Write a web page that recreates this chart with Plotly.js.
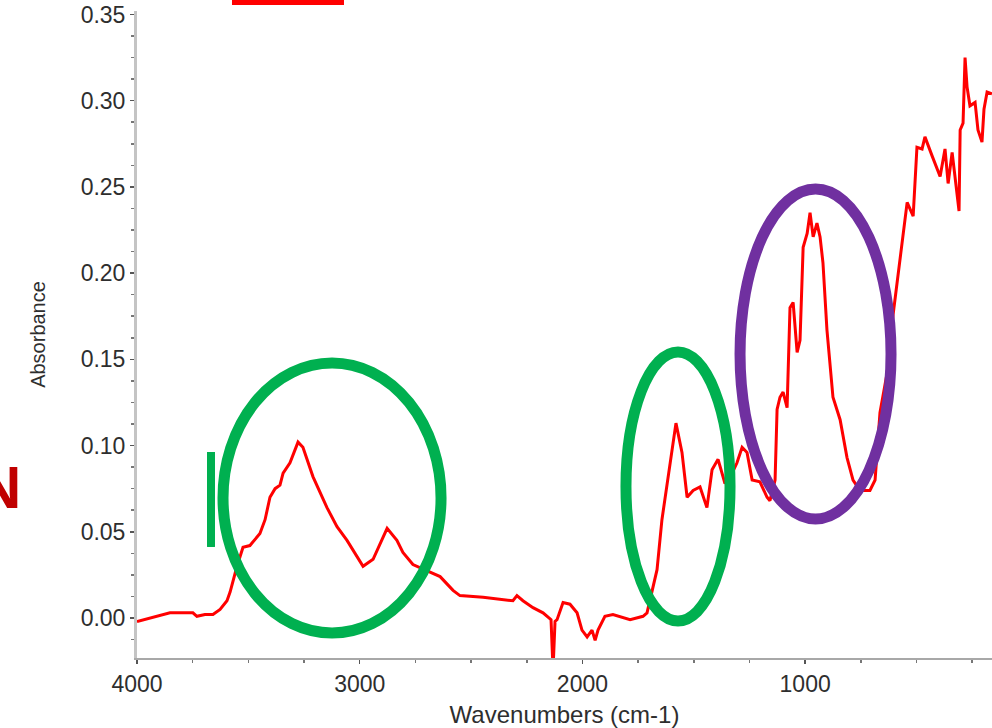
<!DOCTYPE html>
<html>
<head>
<meta charset="utf-8">
<script src="https://cdn.plot.ly/plotly-3.0.1.min.js"></script>
<style>
html,body{margin:0;padding:0;background:#fff;}
#chart{width:992px;height:728px;}
</style>
</head>
<body>
<div id="chart"></div>
<script>
// Wavenumber (cm-1) and absorbance
const wavenumbers = [4000,3942,3852,3749,3731,3695,3659,3627,3596,3582,3560,3551,3524,3493,3448,3425,3403,3380,3358,3344,3313,3277,3255,3210,3147,3102,3057,2985,2940,2877,2833,2806,2761,2671,2639,2581,2550,2446,2312,2294,2267,2222,2177,2141,2132,2123,2114,2087,2056,2024,2002,1979,1957,1943,1930,1899,1863,1786,1728,1710,1688,1665,1643,1607,1580,1553,1530,1503,1472,1441,1418,1391,1360,1328,1306,1283,1261,1238,1203,1171,1158,1135,1126,1113,1099,1081,1068,1054,1036,1023,1009,991,978,964,947,933,920,902,875,843,812,785,754,709,686,664,632,605,560,542,515,498,475,462,430,394,372,358,340,318,309,304,291,282,273,260,237,224,206,197,183,161];
const absorbance = [-0.002,0.000,0.003,0.003,0.001,0.002,0.002,0.005,0.010,0.015,0.026,0.030,0.041,0.042,0.049,0.057,0.070,0.075,0.077,0.084,0.090,0.102,0.099,0.082,0.064,0.053,0.045,0.030,0.034,0.052,0.045,0.038,0.031,0.026,0.024,0.016,0.013,0.012,0.010,0.013,0.010,0.006,0.003,-0.001,-0.030,-0.002,-0.001,0.009,0.008,0.003,-0.007,-0.011,-0.007,-0.013,-0.007,0.001,0.002,-0.001,0.001,0.003,0.016,0.028,0.057,0.088,0.113,0.096,0.070,0.074,0.076,0.064,0.086,0.092,0.078,0.084,0.090,0.099,0.096,0.080,0.079,0.070,0.068,0.080,0.121,0.128,0.131,0.122,0.180,0.183,0.154,0.161,0.215,0.223,0.235,0.221,0.229,0.221,0.206,0.167,0.128,0.115,0.093,0.080,0.074,0.074,0.080,0.119,0.142,0.176,0.225,0.241,0.233,0.273,0.272,0.279,0.268,0.256,0.272,0.252,0.270,0.248,0.236,0.283,0.287,0.325,0.308,0.297,0.299,0.283,0.276,0.295,0.305,0.304];

const xTickVals = [4000,3000,2000,1000];
const xTickText = ['4000','3000','2000','1000'];
const yTickVals = [0,0.05,0.10,0.15,0.20,0.25,0.30,0.35];
const yTickText = ['0.00','0.05','0.10','0.15','0.20','0.25','0.30','0.35'];

const FONT = 'Liberation Sans, Arial, sans-serif';
const GREEN = '#00b050';
const PURPLE = '#7030a0';

const trace = {
  x: wavenumbers, y: absorbance,
  type: 'scatter', mode: 'lines',
  line: {color: '#ff0000', width: 3},
  hoverinfo: 'x+y'
};

const layout = {
  width: 992, height: 728,
  margin: {l: 137, r: 0, t: 11, b: 70, pad: 0},
  paper_bgcolor: '#ffffff', plot_bgcolor: '#ffffff',
  showlegend: false,
  font: {family: FONT, color: '#333333'},
  xaxis: {
    range: [4000, 161], autorange: false,
    tickmode: 'array', tickvals: xTickVals, ticktext: xTickText,
    ticks: 'outside', ticklen: 4, tickwidth: 1.5, tickcolor: '#555',
    minor: {dtick: 250, tick0: 0, ticks: 'outside', ticklen: 3, tickcolor: '#777', showgrid: false},
    showgrid: false, zeroline: false,
    showline: true, linecolor: '#a8a8a8', linewidth: 2,
    tickfont: {family: FONT, size: 23, color: '#2e2e2e'},
    title: {text: 'Wavenumbers (cm-1)', font: {family: FONT, size: 24, color: '#2e2e2e'}, standoff: 14},
    automargin: false
  },
  yaxis: {
    range: [-0.0232, 0.352], autorange: false,
    tickmode: 'array', tickvals: yTickVals, ticktext: yTickText,
    ticks: 'outside', ticklen: 4, tickwidth: 1.5, tickcolor: '#555',
    minor: {dtick: 0.0125, tick0: 0, ticks: 'outside', ticklen: 3, tickcolor: '#777', showgrid: false},
    showgrid: false, zeroline: false,
    showline: true, linecolor: '#c4c4c4', linewidth: 3,
    tickfont: {family: FONT, size: 23, color: '#2e2e2e'},
    title: {text: 'Absorbance', font: {family: FONT, size: 20, color: '#2e2e2e'}, standoff: 30},
    automargin: false
  },
  shapes: [
    {type: 'rect', xref: 'paper', yref: 'paper', x0: 0.1111, x1: 0.2421, y0: 1.0093, y1: 1.03,
     fillcolor: '#ff0000', line: {width: 0}},
    {type: 'rect', xref: 'paper', yref: 'paper', x0: 0.0819, x1: 0.0912, y0: 0.1716, y1: 0.3184,
     fillcolor: GREEN, line: {width: 0}},
    {type: 'circle', xref: 'paper', yref: 'paper', x0: 0.1006, x1: 0.3556, y0: 0.0386, y1: 0.4560,
     line: {color: GREEN, width: 11}},
    {type: 'circle', xref: 'paper', yref: 'paper', x0: 0.5719, x1: 0.6936, y0: 0.0572, y1: 0.4730,
     line: {color: GREEN, width: 11}},
    {type: 'circle', xref: 'paper', yref: 'paper', x0: 0.7053, x1: 0.8819, y0: 0.2148, y1: 0.7249,
     line: {color: PURPLE, width: 11}}
  ],
  annotations: [
    {text: '<b>N</b>', xref: 'paper', yref: 'paper', x: -0.1333, y: 0.2628,
     xanchor: 'right', yanchor: 'middle', showarrow: false,
     font: {family: FONT, size: 60, color: '#c00000'}}
  ]
};

Plotly.newPlot('chart', [trace], layout, {displayModeBar: false, staticPlot: true});
</script>
</body>
</html>
